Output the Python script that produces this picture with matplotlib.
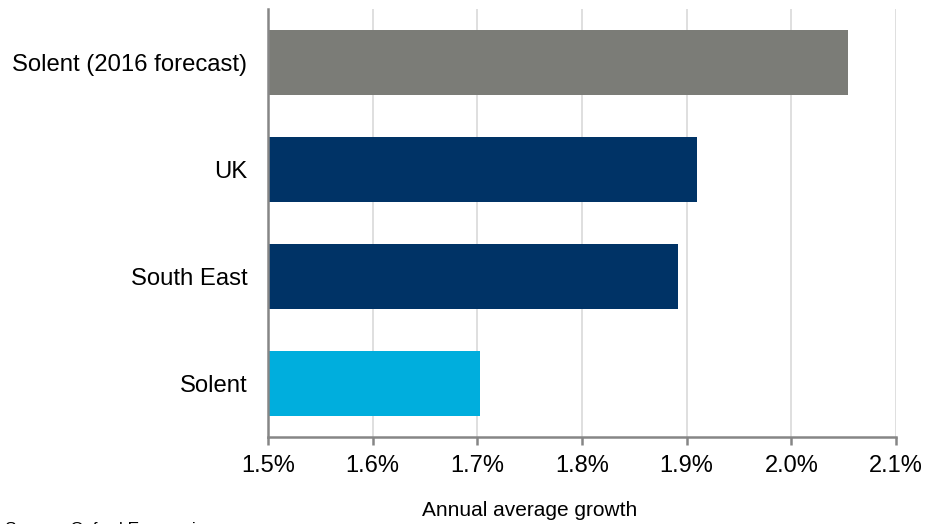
import numpy as np
import matplotlib
matplotlib.use('Agg')
import matplotlib.pyplot as plt
from matplotlib.ticker import FuncFormatter

plt.rcParams['font.family'] = ['Liberation Sans', 'DejaVu Sans']

# data (bottom to top)
regions = ['Solent', 'South East', 'UK', 'Solent (2016 forecast)']
growth = [1.703, 1.892, 1.910, 2.054]
bar_colors = ['#00AEDD', '#003366', '#003366', '#7B7C77']
x_ticks = [1.5, 1.6, 1.7, 1.8, 1.9, 2.0, 2.1]

W, H = 932, 524
fig = plt.figure(figsize=(W / 100, H / 100), dpi=100)
ax = fig.add_axes([268 / W, 1 - 437 / H, (896 - 268) / W, (437 - 9) / H])

y = np.arange(len(regions))
ax.barh(y, np.array(growth) - 1.5, left=1.5, height=0.61, color=bar_colors, zorder=3)

ax.set_xlim(1.5, 2.1)
ax.set_ylim(-0.5, len(regions) - 0.5)
ax.set_xticks(x_ticks)
ax.xaxis.set_major_formatter(FuncFormatter(lambda v, p: '%.1f%%' % v))
ax.set_yticks(y)
ax.set_yticklabels(regions)

ax.grid(axis='x', color='#D9D9D9', linewidth=1.2, zorder=0)
for s in ['top', 'right']:
    ax.spines[s].set_visible(False)
for s in ['left', 'bottom']:
    ax.spines[s].set_color('#868686')
    ax.spines[s].set_linewidth(1.8)
    ax.spines[s].set_zorder(4)

ax.tick_params(axis='x', length=6, width=1.8, color='#868686', labelsize=17, pad=7)
ax.tick_params(axis='y', length=0, labelsize=17.2, pad=15)

fig.text(530 / W, 1 - 510 / H, 'Annual average growth', ha='center', va='center', fontsize=15)
fig.text(5 / W, 1 - 522 / H, 'Source: Oxford Economics', ha='left', va='top', fontsize=12.6)

fig.savefig('out.png', dpi=100)
